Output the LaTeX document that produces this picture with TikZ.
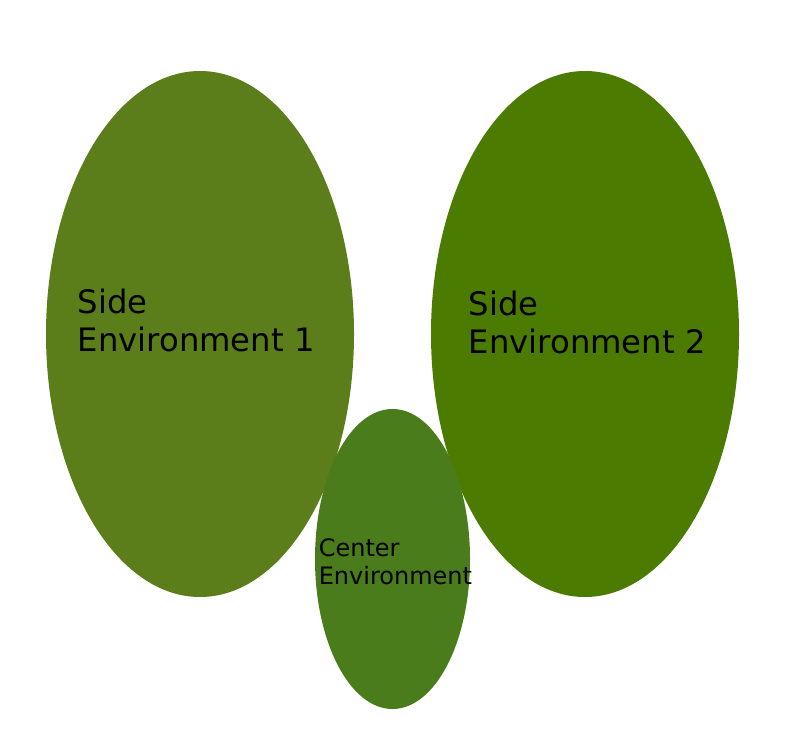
\documentclass[tikz,border=0pt]{standalone}
\usepackage{fontspec}
\setmainfont{DejaVu Sans}
\usetikzlibrary{shapes.geometric}

\definecolor{sideone}{RGB}{91,126,26}
\definecolor{sidetwo}{RGB}{75,123,0}
\definecolor{centerenv}{RGB}{74,124,28}

\begin{document}
\begin{tikzpicture}[x=0.75pt,y=-0.75pt,
  envshape/.style={ellipse,inner sep=0pt,outer sep=0pt},
  biglabel/.style={anchor=west,align=left,inner sep=0pt,
    font=\fontsize{24.2}{28}\selectfont},
  smalllabel/.style={anchor=west,align=left,inner sep=0pt,
    font=\fontsize{18}{21}\selectfont}]
  \useasboundingbox (0,0) rectangle (791,742);
  \node[envshape,fill=sideone,minimum width=231pt,minimum height=394.5pt]
    (SideA) at (200,334) {};
  \node[envshape,fill=sidetwo,minimum width=231pt,minimum height=394.5pt]
    (SideB) at (585,334) {};
  \node[envshape,fill=centerenv,minimum width=116.25pt,minimum height=225pt]
    (Center) at (392.5,559) {};
  \node[biglabel]   (SideAtxt)   at (77.5,320.5)  {Side\\Environment 1};
  \node[biglabel]   (SideBtxt)   at (468.5,322.5) {Side\\Environment 2};
  \node[smalllabel] (Centertxt)  at (318.5,561.5) {Center\\Environment};
\end{tikzpicture}
\end{document}
